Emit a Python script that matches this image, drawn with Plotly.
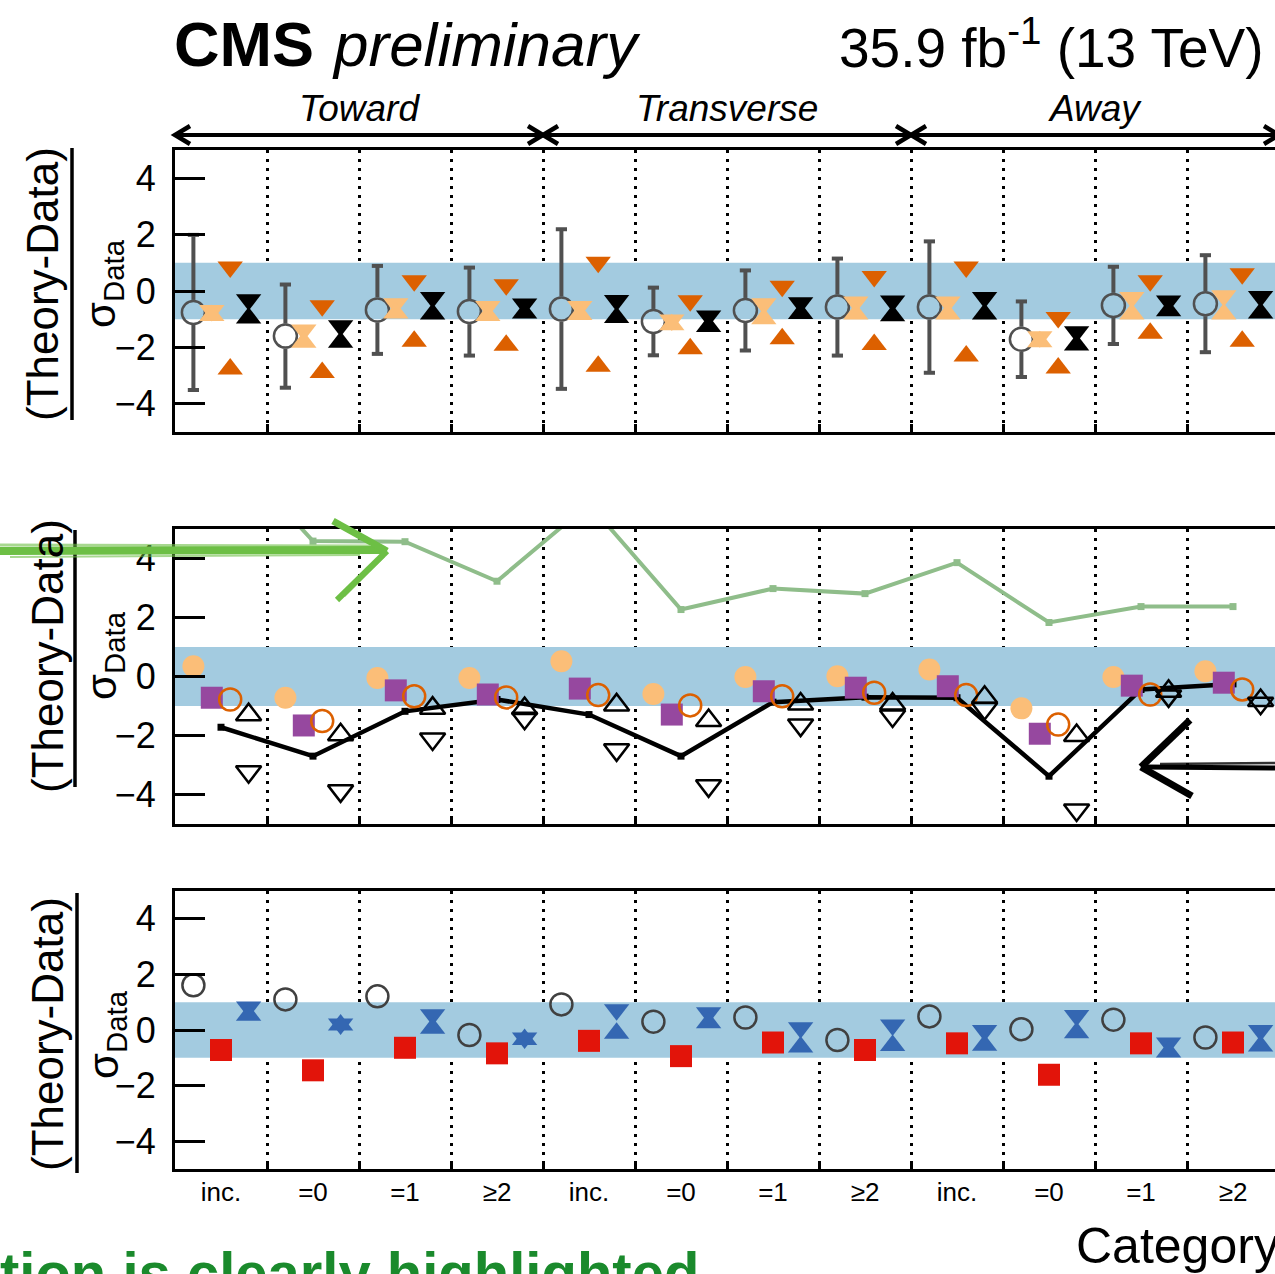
import numpy as np
import plotly.graph_objects as go

W, H = 1275, 1274

# ---------------- data ----------------
categories = ["inc.", "=0", "=1", "≥2"] * 3
regions = ["Toward", "Transverse", "Away"]

# top panel
top_circle = [-0.76, -1.60, -0.67, -0.73, -0.64, -1.08, -0.69, -0.57, -0.57, -1.71, -0.51, -0.45]
top_circle_err = [2.75, 1.83, 1.56, 1.56, 2.83, 1.20, 1.42, 1.72, 2.33, 1.34, 1.37, 1.72]
top_lorange_dn = [-0.79, -1.48, -0.55, -0.65, -0.65, -1.13, -0.55, -0.49, -0.49, -1.72, -0.33, -0.27]
top_lorange_up = [-0.77, -1.72, -0.68, -0.77, -0.74, -1.10, -0.89, -0.72, -0.72, -1.70, -0.72, -0.72]
top_dorange_dn = [0.75, -0.62, 0.27, 0.12, 0.92, -0.44, 0.07, 0.42, 0.75, -1.04, 0.27, 0.51]
top_dorange_up = [-2.67, -2.79, -1.68, -1.83, -2.57, -1.95, -1.60, -1.80, -2.21, -2.63, -1.40, -1.68]
top_black_dn = [-0.41, -1.33, -0.33, -0.56, -0.43, -0.98, -0.51, -0.45, -0.33, -1.54, -0.45, -0.29]
top_black_up = [-0.86, -1.72, -0.72, -0.68, -0.84, -1.16, -0.70, -0.78, -0.72, -1.82, -0.60, -0.68]

# middle panel
mid_lorange = [0.35, -0.72, -0.05, -0.05, 0.52, -0.59, -0.02, 0.01, 0.24, -1.08, -0.02, 0.18]
mid_purple = [-0.72, -1.66, -0.47, -0.61, -0.41, -1.29, -0.50, -0.38, -0.33, -1.94, -0.31, -0.21]
mid_ocircle = [-0.78, -1.51, -0.67, -0.71, -0.63, -0.98, -0.67, -0.55, -0.63, -1.63, -0.61, -0.44]
mid_tri_up = [-1.20, -1.88, -0.98, -0.99, -0.87, -1.40, -0.84, -0.84, -0.61, -1.91, -0.41, -0.72]
mid_tri_dn = [-3.32, -3.97, -2.21, -1.51, -2.58, -3.80, -1.74, -1.43, -1.18, -4.62, -0.75, -1.00]
mid_black_line = [-1.72, -2.70, -1.18, -0.78, -1.29, -2.70, -0.87, -0.70, -0.72, -3.38, -0.44, -0.25]
mid_green_line = [8.0, 4.59, 4.57, 3.23, 5.85, 2.27, 2.98, 2.81, 3.86, 1.83, 2.37, 2.37]

# bottom panel
bot_circle = [1.61, 1.10, 1.21, -0.18, 0.92, 0.30, 0.45, -0.36, 0.49, 0.03, 0.37, -0.27]
bot_red = [-0.72, -1.45, -0.64, -0.84, -0.39, -0.94, -0.45, -0.72, -0.48, -1.61, -0.48, -0.45]
bot_blue_dn = [0.73, 0.12, 0.45, -0.39, 0.63, 0.52, -0.02, 0.08, -0.12, 0.42, -0.57, -0.12]
bot_blue_up = [0.63, 0.28, 0.16, -0.24, -0.02, 0.36, -0.51, -0.46, -0.45, 0.00, -0.69, -0.48]

# ---------------- style ----------------
FONT = "Liberation Sans, Arial, Helvetica, sans-serif"
C_BAND = "#a3cbe0"
C_GRAY = "#505050"
C_LOR = "#fbbe78"
C_DOR = "#dc6000"
C_PUR = "#96489f"
C_RED = "#e2140a"
C_BLUE = "#3467b2"
C_GREENL = "#8fbd8a"

def PX(x):
    return x / W

def PY(y):
    return 1 - y / H

panels = [  # (x-axis, y-axis, top px, bottom px)
    ("x", "y", 150, 432),
    ("x2", "y2", 529, 824),
    ("x3", "y3", 891, 1169),
]
X0, SLOT = 175, 92
XMAX = (W - X0) / SLOT
slots = np.arange(12)

fig = go.Figure()

def add(x, y, panel, **kw):
    xa, ya = panels[panel][0], panels[panel][1]
    fig.add_trace(go.Scatter(x=x, y=y, xaxis=xa, yaxis=ya, showlegend=False,
                             hoverinfo="skip", **kw))

def ppu(panel):
    return (panels[panel][3] - panels[panel][2]) / 10.0

TRI = 22

def tri_shift(panel, size=TRI):
    # plotly triangles sit on their centroid; shift so the box is centred on the value
    return (size / 2.0 / 4.0) / ppu(panel)

def add_tri_pair(dn, up, panel, off, col, filled=True):
    s = tri_shift(panel)
    sym_dn = "triangle-down" if filled else "triangle-down-open"
    sym_up = "triangle-up" if filled else "triangle-up-open"
    lw = 0 if filled else 2.5
    add(slots + off, np.array(dn) + s, panel, mode="markers",
        marker=dict(symbol=sym_dn, size=TRI, color=col, line=dict(color=col, width=lw)))
    add(slots + off, np.array(up) - s, panel, mode="markers",
        marker=dict(symbol=sym_up, size=TRI, color=col, line=dict(color=col, width=lw)))

# ---------- top panel ----------
gap = 12.5 / ppu(0)
ex, ey, cx, cy = [], [], [], []
for i, (v, e) in enumerate(zip(top_circle, top_circle_err)):
    xx = i + 0.2
    ex += [xx, xx, None, xx, xx, None]
    ey += [v + e, v + gap, None, v - gap, v - e, None]
    cx += [xx, xx]
    cy += [v + e, v - e]
add(ex, ey, 0, mode="lines", line=dict(color=C_GRAY, width=4))
add(cx, cy, 0, mode="markers", marker=dict(symbol="line-ew", size=8, line=dict(color=C_GRAY, width=4)))
add(slots + 0.2, top_circle, 0, mode="markers",
    marker=dict(symbol="circle-open", size=23, color=C_GRAY, line=dict(color=C_GRAY, width=2.5)))
add_tri_pair(top_lorange_dn, top_lorange_up, 0, 0.4, C_LOR)
add_tri_pair(top_dorange_dn, top_dorange_up, 0, 0.6, C_DOR)
add_tri_pair(top_black_dn, top_black_up, 0, 0.8, "black")

# ---------- middle panel ----------
add(slots + 0.5, mid_green_line, 1, mode="lines+markers", line=dict(color=C_GREENL, width=4),
    marker=dict(symbol="square", size=7, color=C_GREENL))
add(slots + 0.5, mid_black_line, 1, mode="lines+markers", line=dict(color="black", width=4.5),
    marker=dict(symbol="square", size=7, color="black"))
add(slots + 0.2, mid_lorange, 1, mode="markers", marker=dict(symbol="circle", size=22, color=C_LOR, line=dict(width=0)))
add(slots + 0.4, mid_purple, 1, mode="markers", marker=dict(symbol="square", size=22, color=C_PUR, line=dict(width=0)))
add(slots + 0.6, mid_ocircle, 1, mode="markers",
    marker=dict(symbol="circle-open", size=22, color=C_DOR, line=dict(color=C_DOR, width=2.5)))
add_tri_pair(mid_tri_dn, mid_tri_up, 1, 0.8, "black", filled=False)

# ---------- bottom panel ----------
add(slots + 0.2, bot_circle, 2, mode="markers",
    marker=dict(symbol="circle-open", size=22, color="#404040", line=dict(color="#404040", width=2.5)))
add(slots + 0.5, bot_red, 2, mode="markers", marker=dict(symbol="square", size=22, color=C_RED, line=dict(width=0)))
add_tri_pair(bot_blue_dn, bot_blue_up, 2, 0.8, C_BLUE)

# ---------------- axes ----------------
layout = dict(width=W, height=H, margin=dict(l=0, r=0, t=0, b=0),
              paper_bgcolor="white", plot_bgcolor="white",
              font=dict(family=FONT, color="black"), showlegend=False)
shapes, annots = [], []
for k, (xa, ya, ytop, ybot) in enumerate(panels):
    xkey = "xaxis" if xa == "x" else "xaxis" + xa[1:]
    ykey = "yaxis" if ya == "y" else "yaxis" + ya[1:]
    layout[xkey] = dict(
        domain=[PX(X0), 1], range=[0, XMAX], anchor=ya,
        tickmode="array", tickvals=list(slots + 0.5), ticktext=categories,
        showticklabels=(k == 2), ticks="", tickfont=dict(size=26),
        ticklabelstandoff=-2,
        showgrid=False, zeroline=False,
        showline=True, linewidth=3, linecolor="black", mirror=True,
        minor=dict(tickmode="array", tickvals=list(range(1, 12)), ticks="inside", ticklen=8,
                   tickwidth=2.5, tickcolor="black", showgrid=True, gridcolor="black",
                   gridwidth=2.5, griddash="3px,6px"),
    )
    layout[ykey] = dict(
        domain=[PY(ybot), PY(ytop)], range=[-5, 5], anchor=xa,
        tickmode="array", tickvals=[-4, -2, 0, 2, 4],
        ticks="inside", ticklen=30, tickwidth=2.5, tickcolor="black",
        tickfont=dict(size=36), ticklabelstandoff=9,
        showgrid=False, zeroline=False, showline=True, linewidth=3, linecolor="black",
    )
    shapes.append(dict(type="rect", xref=xa, yref=ya, x0=0, x1=12, y0=-1, y1=1,
                       fillcolor=C_BAND, line=dict(width=0), layer="between"))

# y-axis titles (fraction)
ytitles = [  # (center y, x of text, x of bar, bar top, bar bottom, x of sigma)
    (284, 42, 72, 148, 420, 103),
    (656, 47, 75, 530, 787, 104),
    (1034, 47, 77, 893, 1173, 106),
]
for cyy, xt, xb, bt, bb, xs in ytitles:
    annots.append(dict(xref="paper", yref="paper", x=PX(xt), y=PY(cyy), text="(Theory-Data)",
                       textangle=-90, showarrow=False, xanchor="center", yanchor="middle",
                       font=dict(size=44)))
    shapes.append(dict(type="line", xref="paper", yref="paper", x0=PX(xb), x1=PX(xb),
                       y0=PY(bt), y1=PY(bb), line=dict(color="black", width=3.5)))
    annots.append(dict(xref="paper", yref="paper", x=PX(xs), y=PY(cyy), text="σ<sub>Data</sub>",
                       textangle=-90, showarrow=False, xanchor="center", yanchor="middle",
                       font=dict(size=42)))

# header
annots += [
    dict(xref="paper", yref="paper", x=PX(172), y=PY(44), text="<b>CMS</b>", showarrow=False,
         xanchor="left", yanchor="middle", font=dict(size=63)),
    dict(xref="paper", yref="paper", x=PX(330), y=PY(44), text="<i>preliminary</i>", showarrow=False,
         xanchor="left", yanchor="middle", font=dict(size=62)),
    dict(xref="paper", yref="paper", x=PX(837), y=PY(44), text="35.9 fb<sup>-1</sup> (13 TeV)",
         showarrow=False, xanchor="left", yanchor="middle", font=dict(size=55)),
]
for i, name in enumerate(regions):
    xc = X0 + (4 * i + 2) * SLOT
    annots.append(dict(xref="paper", yref="paper", x=PX(xc), y=PY(108), text="<i>%s</i>" % name,
                       showarrow=False, xanchor="center", yanchor="middle", font=dict(size=37)))
    xl, xr = X0 + 4 * i * SLOT, X0 + 4 * (i + 1) * SLOT
    ya_ = 135
    shapes.append(dict(type="line", xref="paper", yref="paper", x0=PX(xl + 2), x1=PX(xr - 2),
                       y0=PY(ya_), y1=PY(ya_), line=dict(color="black", width=4)))
    for xt, sgn in [(xl, 1), (xr, -1)]:
        path = "M %f,%f L %f,%f L %f,%f" % (PX(xt + sgn * 15), PY(ya_ - 9), PX(xt), PY(ya_),
                                           PX(xt + sgn * 15), PY(ya_ + 9))
        shapes.append(dict(type="path", xref="paper", yref="paper", path=path,
                           line=dict(color="black", width=4.5)))

annots.append(dict(xref="paper", yref="paper", x=PX(1074), y=PY(1246), text="Category",
                   showarrow=False, xanchor="left", yanchor="middle", font=dict(size=50)))
annots.append(dict(xref="paper", yref="paper", x=PX(-2), y=PY(1238), text="<b>tion is clearly highlighted</b>",
                   showarrow=False, xanchor="left", yanchor="top", font=dict(size=58, color="#1a8a2c")))

# hand-drawn arrows
def stroke(pts, color, width, opacity=1.0):
    path = "M " + " L ".join("%f,%f" % (PX(a), PY(b)) for a, b in pts)
    shapes.append(dict(type="path", xref="paper", yref="paper", path=path,
                       line=dict(color=color, width=width), opacity=opacity))

GA = "#6dbf45"
stroke([(0, 551), (383, 550)], GA, 8)
stroke([(0, 545), (370, 546)], GA, 3, 0.6)
stroke([(10, 557), (360, 555)], GA, 2, 0.6)
stroke([(333, 521), (387, 551)], GA, 7)
stroke([(387, 551), (337, 600)], GA, 6)
stroke([(344, 596), (384, 556)], GA, 3, 0.6)
stroke([(1275, 768), (1146, 767)], "black", 5)
stroke([(1275, 763), (1160, 764)], "black", 2.5, 0.8)
stroke([(1190, 720), (1141, 767)], "black", 7)
stroke([(1141, 767), (1192, 796)], "black", 7)

layout["shapes"] = shapes
layout["annotations"] = annots
fig.update_layout(**layout)
fig.write_html("out.html", config={"displayModeBar": False},
               post_script="document.body.style.margin='0px';")
